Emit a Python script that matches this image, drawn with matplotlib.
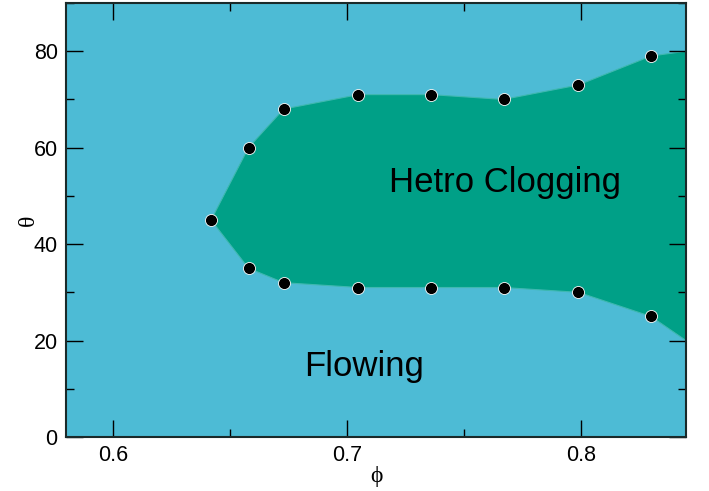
import matplotlib
matplotlib.use("Agg")
import matplotlib.pyplot as plt
import numpy as np
from matplotlib.ticker import MultipleLocator

plt.rcParams['font.family'] = ['Liberation Sans', 'DejaVu Sans']

# boundary points
phi_up = [0.642, 0.658, 0.673, 0.705, 0.736, 0.767, 0.799, 0.830]
theta_up = [45, 60, 68, 71, 71, 70, 73, 79]
phi_low = [0.658, 0.673, 0.705, 0.736, 0.767, 0.799, 0.830]
theta_low = [35, 32, 31, 31, 31, 30, 25]
# where the region meets the right edge
phi_edge = 0.845
theta_edge_up = 80
theta_edge_low = 20

blue = '#4DBBD5'
green = '#00A087'

fig = plt.figure(figsize=(7.09, 4.91), dpi=100)
ax = fig.add_axes([0.0931, 0.11, 0.8745, 0.8839])
ax.set_facecolor(blue)

# polygon of the clogging region
px = phi_up + [phi_edge, phi_edge] + phi_low[::-1]
py = theta_up + [theta_edge_up, theta_edge_low] + theta_low[::-1]
ax.fill(px, py, color=green, edgecolor='#3fb8b0', linewidth=0.8, zorder=1)

ax.scatter(phi_up + phi_low, theta_up + theta_low, s=75, c='black',
           edgecolors='white', linewidths=0.6, zorder=3)

ax.text(0.7676, 52.8, 'Hetro Clogging', fontsize=25, ha='center', va='center')
ax.text(0.7076, 14.6, 'Flowing', fontsize=25, ha='center', va='center')

ax.set_xlim(0.58, 0.845)
ax.set_ylim(0, 90)
ax.xaxis.set_major_locator(MultipleLocator(0.1))
ax.xaxis.set_minor_locator(MultipleLocator(0.05))
ax.yaxis.set_major_locator(MultipleLocator(20))
ax.yaxis.set_minor_locator(MultipleLocator(10))
ax.tick_params(which='both', direction='in', top=True, right=True, labelsize=15.5)
ax.tick_params(which='major', length=12, width=1, pad=6)
ax.tick_params(which='minor', length=6, width=1)
for s in ax.spines.values():
    s.set_linewidth(1.5)
    s.set_color('#1a2a2a')

ax.set_xlabel('\u03d5', fontsize=17, family=['Liberation Serif', 'DejaVu Serif'], labelpad=0)
ax.set_ylabel('\u03b8', fontsize=17, family=['Liberation Serif', 'DejaVu Serif'], labelpad=-4)

fig.savefig('out.png', dpi=100)
